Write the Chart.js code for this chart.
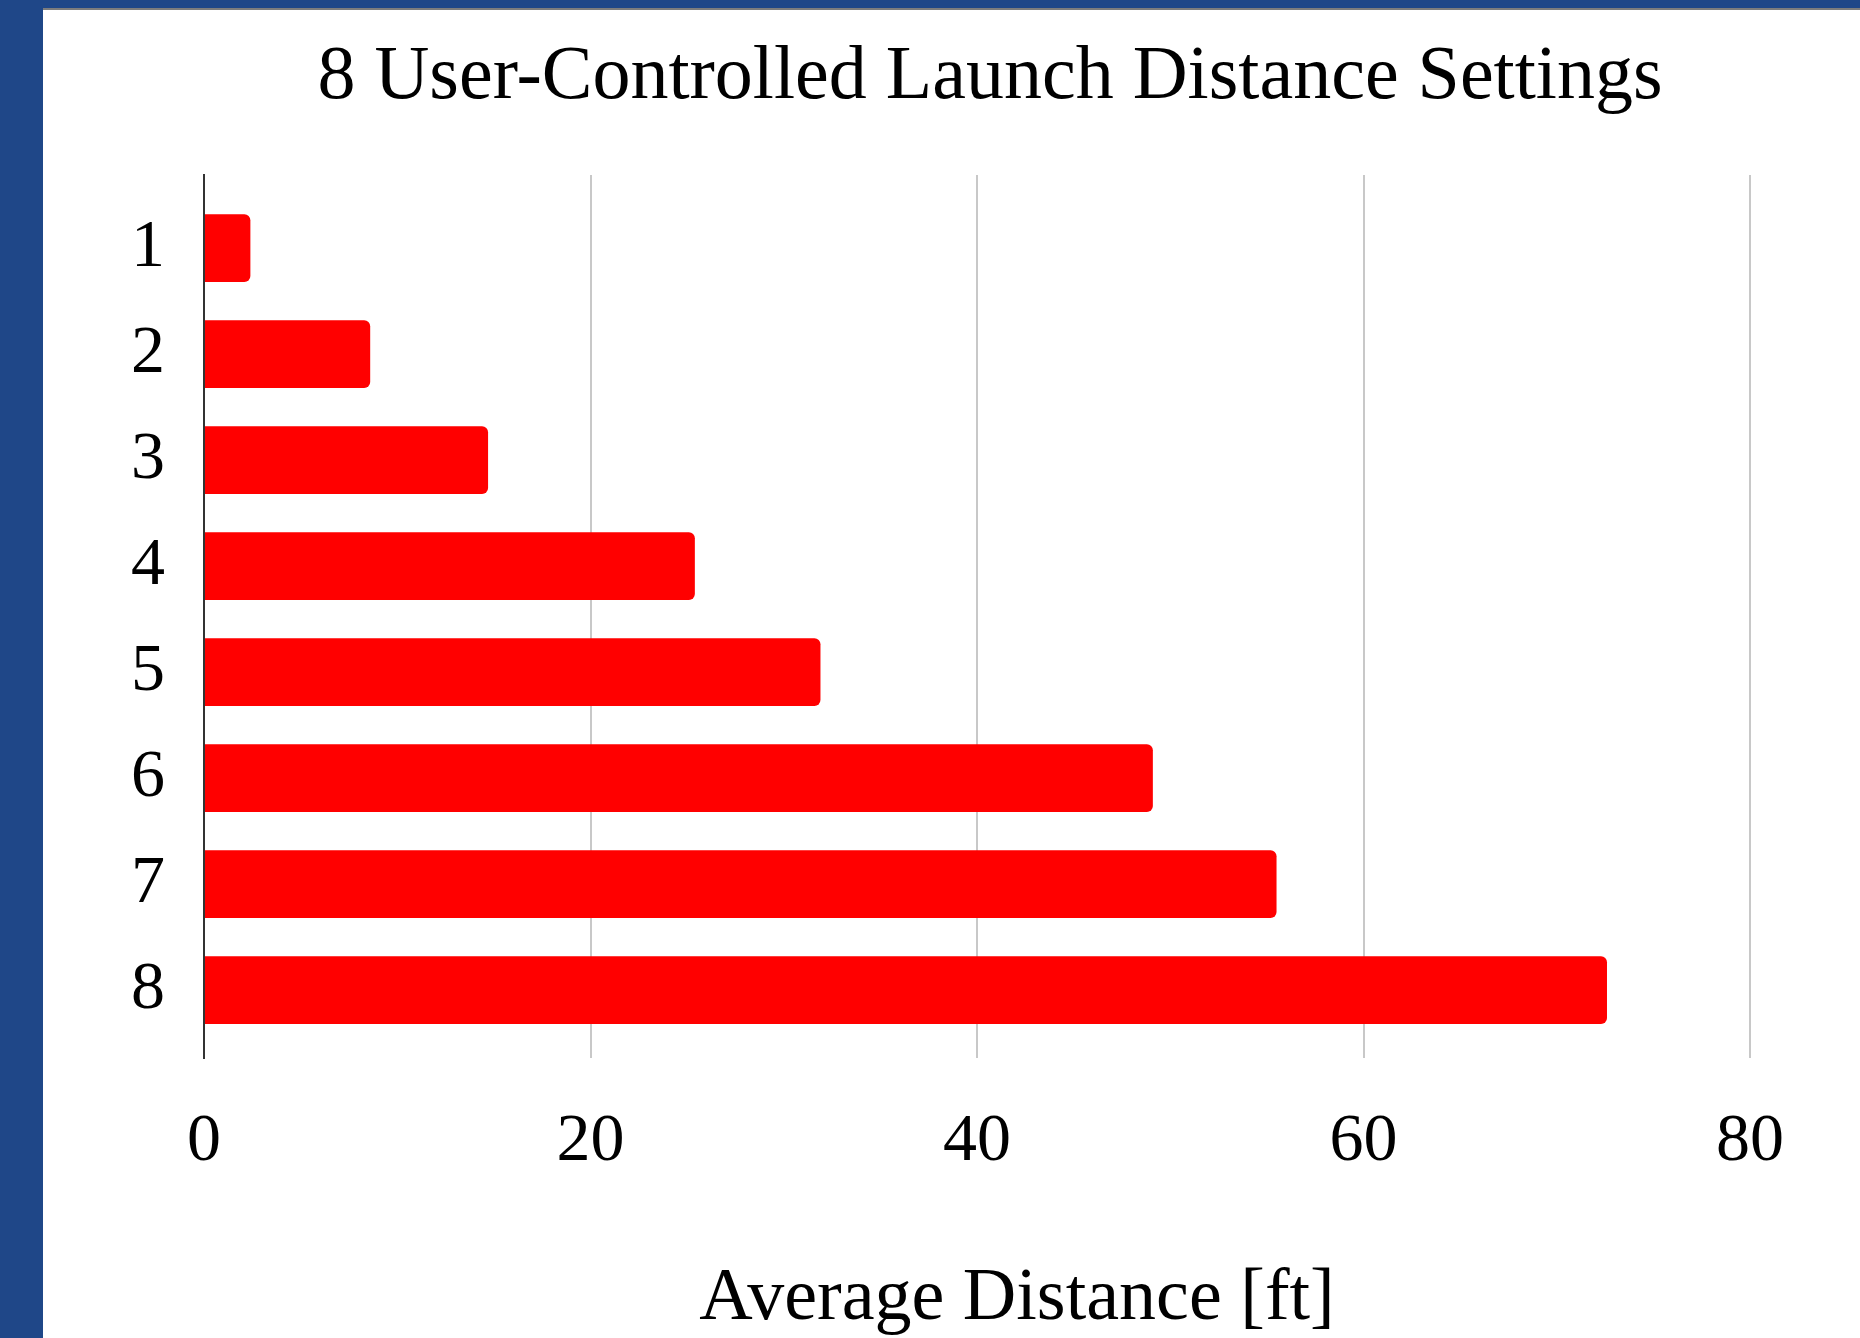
<!DOCTYPE html>
<html>
<head>
<meta charset="utf-8">
<script src="https://cdn.jsdelivr.net/npm/chart.js@4.4.0/dist/chart.umd.min.js"></script>
<style>
  html, body { margin: 0; padding: 0; background: #1f4788; }
  #page { position: relative; width: 1860px; height: 1338px; background: #1f4788; overflow: hidden; }
  #panel { position: absolute; left: 43px; top: 8px; width: 1817px; height: 1330px; background: #fff; border-top: 2px solid #7d7d7d; box-sizing: border-box; }
</style>
</head>
<body>
<div id="page"><div id="panel"><canvas id="distancias" width="1817" height="1328"></canvas></div></div>
<script>
const ajustes = [1, 2, 3, 4, 5, 6, 7, 8];
const distancias = [2.4, 8.6, 14.7, 25.4, 31.9, 49.1, 55.5, 72.6];
const marcasX = [0, 20, 40, 60, 80];

const titulo = "8 User-Controlled Launch Distance Settings";
const tituloX = "Average Distance [ft]";
const fuente = "'Liberation Serif', 'Times New Roman', serif";

const lienzo = document.getElementById("distancias");

Chart.defaults.font.family = fuente;
Chart.defaults.color = "#000";

// titulos dibujados a mano: en la referencia no quedan centrados sobre el area
const rotulos = {
  id: "rotulos",
  afterDraw(chart) {
    const { ctx, chartArea } = chart;
    const centro = (chartArea.left + chartArea.right) / 2;
    ctx.save();
    ctx.fillStyle = "#000";
    ctx.textAlign = "center";
    ctx.textBaseline = "middle";
    ctx.font = "76px " + fuente;
    ctx.fillText(titulo, centro + 13, 68);
    ctx.font = "74px " + fuente;
    ctx.fillText(tituloX, centro + 40, chart.height - 38.4);
    ctx.restore();
  },
};

new Chart(lienzo, {
  type: "bar",
  data: {
    datasets: [
      {
        label: tituloX,
        data: distancias.map((d, i) => ({ x: d, y: ajustes[i] })),
        backgroundColor: "#ff0000",
        borderWidth: 0,
        borderRadius: 6,
        borderSkipped: "start",
        categoryPercentage: 0.8,
        barPercentage: 0.8,
      },
    ],
  },
  options: {
    indexAxis: "y",
    responsive: false,
    animation: false,
    devicePixelRatio: 1,
    layout: {
      padding: { left: 0, right: 110, top: 165, bottom: 0 },
    },
    plugins: {
      legend: { display: false },
      tooltip: { enabled: false },
      title: { display: false },
    },
    scales: {
      x: {
        type: "linear",
        min: marcasX[0],
        max: marcasX[marcasX.length - 1],
        afterBuildTicks: (s) => {
          s.ticks = marcasX.map((v) => ({ value: v }));
        },
        afterFit: (s) => {
          s.height = 280;
        },
        grid: {
          color: (ctx) => (ctx.tick && ctx.tick.value === 0 ? "rgba(0,0,0,0)" : "#c8c8c8"),
          lineWidth: 2,
          drawTicks: false,
        },
        border: { display: false },
        ticks: {
          padding: 43,
          font: { size: 68 },
          color: "#000",
        },
        title: { display: false },
      },
      y: {
        type: "linear",
        reverse: true,
        offset: false,
        min: 0.31,
        max: 8.64,
        afterBuildTicks: (s) => {
          s.ticks = ajustes.map((v) => ({ value: v }));
        },
        afterFit: (s) => {
          s.width = 161;
        },
        grid: { display: false, offset: false, drawTicks: false, tickLength: 0 },
        border: { display: true, color: "#333333", width: 2 },
        ticks: {
          padding: 39,
          font: { size: 68 },
          color: "#000",
        },
      },
    },
  },
  plugins: [rotulos],
});
</script>
</body>
</html>
